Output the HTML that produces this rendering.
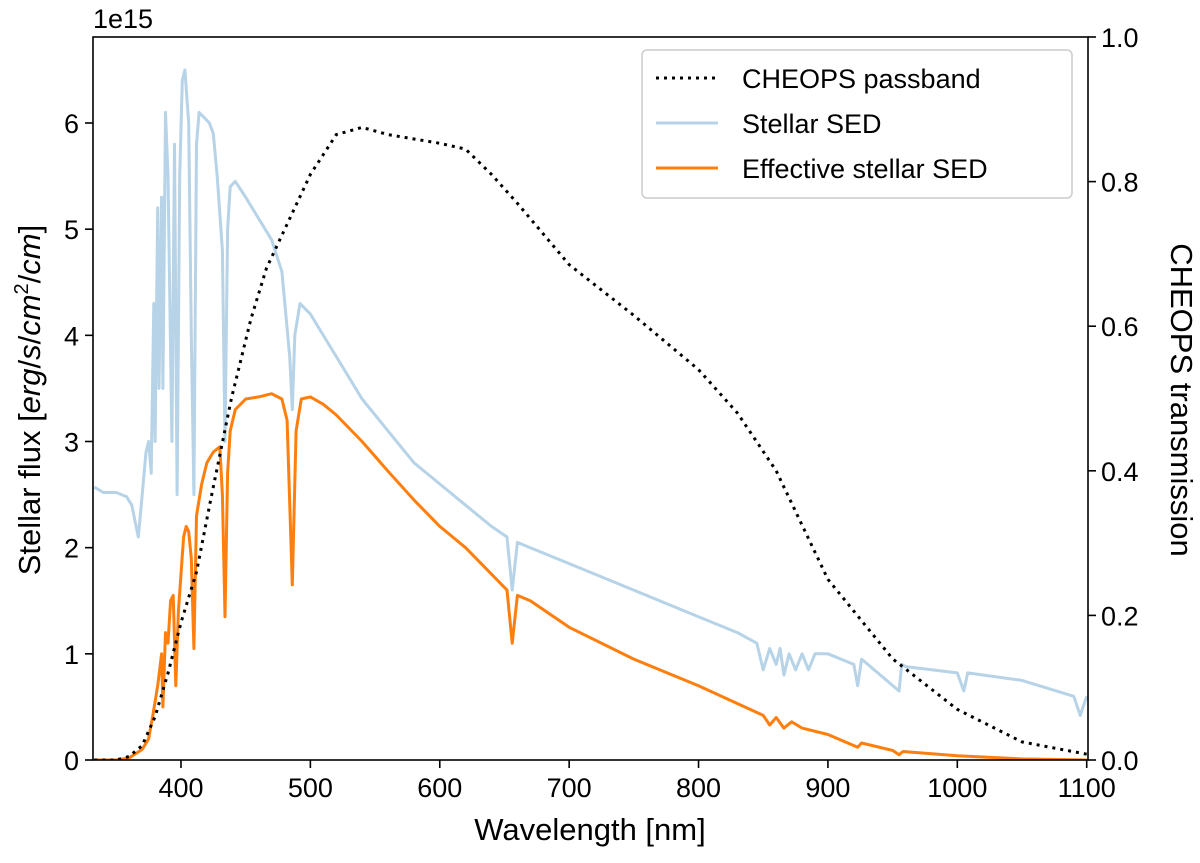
<!DOCTYPE html>
<html><head><meta charset="utf-8"><style>
body{margin:0;background:#fff;}
svg text{font-family:"Liberation Sans","DejaVu Sans",sans-serif;fill:#000;}
</style></head><body>
<svg id="chart" width="1200" height="858" viewBox="0 0 1200 858" xmlns="http://www.w3.org/2000/svg">
<g id="grid"></g>
<g id="marks"></g>
<g id="axes"></g>
</svg>
<script>
const xTicks=[400,500,600,700,800,900,1000,1100];
const yTicksLeft=[0,1,2,3,4,5,6];
const yTicksRight=[0,0.2,0.4,0.6,0.8,1.0];
const yTicksRightLabels=["0.0","0.2","0.4","0.6","0.8","1.0"];
const passWl=[333,350,360,370,380,390,400,412,423,439,454,466,500,520,540,560,600,620,640,660,700,750,800,830,860,900,950,1000,1050,1100];
const passT=[0,0.0,0.005,0.02,0.06,0.12,0.19,0.26,0.36,0.50,0.61,0.68,0.81,0.865,0.875,0.865,0.853,0.845,0.81,0.77,0.685,0.615,0.54,0.48,0.40,0.25,0.14,0.07,0.025,0.008];
const sedWl=[333,340,350,358,362,367,370,373,375,377,379,380,382,383,385,386,388,390,393,395,397,399,401,403,406,408,410,412,414,418,422,425,428,432,434,436,438,442,450,460,470,478,484,486,488,492,500,520,540,560,580,600,620,640,652,656,660,670,700,750,800,830,845,850,855,860,863,866,870,875,880,885,890,900,920,923,926,955,957,960,1000,1005,1008,1050,1090,1095,1100];
const sedFlux=[2.57,2.52,2.52,2.48,2.4,2.1,2.5,2.9,3.0,2.7,4.3,3.0,5.2,3.5,5.3,3.5,6.1,5.5,3.0,5.8,2.5,5.5,6.4,6.5,6.0,4.0,2.5,5.8,6.1,6.05,6.0,5.9,5.5,4.8,3.0,5.0,5.4,5.45,5.3,5.1,4.9,4.6,3.8,3.3,4.0,4.3,4.2,3.8,3.4,3.1,2.8,2.6,2.4,2.2,2.1,1.6,2.05,2.0,1.85,1.6,1.35,1.2,1.1,0.85,1.05,0.9,1.05,0.8,1.0,0.85,1.0,0.85,1.0,1.0,0.9,0.7,0.95,0.65,0.9,0.88,0.82,0.65,0.82,0.75,0.6,0.42,0.6];
const effWl=[333,350,360,370,375,378,382,385,386,388,390,392,394,396,398,402,404,406,408,410,412,416,420,425,430,432,434,436,438,442,450,460,470,478,482,486,489,493,500,510,520,540,560,580,600,620,640,652,656,660,670,700,750,800,850,855,860,866,872,880,900,923,926,950,955,958,1000,1050,1100];
const effFlux=[0,0,0.02,0.1,0.2,0.4,0.7,1.0,0.5,1.2,1.1,1.5,1.55,0.7,1.4,2.1,2.2,2.15,1.9,1.05,2.3,2.6,2.8,2.9,2.95,2.5,1.35,2.7,3.1,3.3,3.4,3.42,3.45,3.4,3.2,1.65,3.1,3.4,3.42,3.35,3.25,3.0,2.72,2.45,2.2,2.0,1.75,1.6,1.1,1.55,1.5,1.25,0.95,0.7,0.42,0.33,0.4,0.3,0.36,0.3,0.24,0.12,0.16,0.09,0.05,0.08,0.04,0.01,0.0];

const L=93,R=1088,T=37,B=760;
const xMin=332,xMax=1101,yMax=6.81;
const X=v=>L+(v-xMin)/(xMax-xMin)*(R-L);
const Y=v=>B-v/yMax*(B-T);
const Y2=v=>B-v*(B-T);
const NS="http://www.w3.org/2000/svg";
function mk(tag,attrs,parent){const e=document.createElementNS(NS,tag);for(const k in attrs)e.setAttribute(k,attrs[k]);parent.appendChild(e);return e;}
const marks=document.getElementById('marks'),axes=document.getElementById('axes');
function path(xs,ys,fy){return xs.map((x,i)=>(i?'L':'M')+X(x).toFixed(1)+','+fy(ys[i]).toFixed(1)).join('');}
const cp=mk('clipPath',{id:'clip'},marks);mk('rect',{x:L,y:T,width:R-L,height:B-T},cp);
const sed=mk('path',{d:path(sedWl,sedFlux,Y),fill:'none',stroke:'#b6d3e7','stroke-width':3,'stroke-linejoin':'round','clip-path':'url(#clip)'},marks);


const eff=mk('path',{d:path(effWl,effFlux,Y),fill:'none',stroke:'#ff7f0e','stroke-width':3,'stroke-linejoin':'round','clip-path':'url(#clip)'},marks);


const pb=mk('path',{d:path(passWl,passT,Y2),fill:'none',stroke:'#000','stroke-width':3,'stroke-dasharray':'3,5','clip-path':'url(#clip)'},marks);



const frame=mk('rect',{x:L,y:T,width:R-L,height:B-T,fill:'none',stroke:'#000','stroke-width':1.6},axes);


xTicks.forEach(v=>{const x=X(v);mk('line',{x1:x,x2:x,y1:B,y2:B+8,stroke:'#000','stroke-width':1.6},axes);
 const t=mk('text',{x:x,y:B+37,'font-size':27,'text-anchor':'middle'},axes);t.textContent=v;
 
 });
yTicksLeft.forEach(v=>{const y=Y(v);mk('line',{x1:L-8,x2:L,y1:y,y2:y,stroke:'#000','stroke-width':1.6},axes);
 const t=mk('text',{x:L-14,y:y+10,'font-size':27,'text-anchor':'end'},axes);t.textContent=v;
 
 });
yTicksRight.forEach((v,i)=>{const y=Y2(v);mk('line',{x1:R,x2:R+8,y1:y,y2:y,stroke:'#000','stroke-width':1.6},axes);
 const t=mk('text',{x:R+13,y:y+10,'font-size':27},axes);t.textContent=yTicksRightLabels[i];
 
 });
</script>
<svg width="1200" height="858" style="position:absolute;left:0;top:0" xmlns="http://www.w3.org/2000/svg">
<text x="93" y="28" font-size="27">1e15</text>
<text x="590" y="840" font-size="31" text-anchor="middle">Wavelength [nm]</text>
<text transform="translate(40,400) rotate(-90)" font-size="31" text-anchor="middle">Stellar flux [<tspan font-style="italic">erg</tspan>/<tspan font-style="italic">s</tspan>/<tspan font-style="italic">cm</tspan><tspan font-size="20" dy="-12">2</tspan><tspan dy="12">/</tspan><tspan font-style="italic">cm</tspan>]</text>
<text transform="translate(1171,400) rotate(90)" font-size="31" text-anchor="middle">CHEOPS transmission</text>
<g>
<rect x="642" y="50" width="430" height="148" rx="5" fill="#fff" fill-opacity="0.85" stroke="#ccc" stroke-width="1.5"/>
<line x1="656" y1="78" x2="718" y2="78" stroke="#000" stroke-width="3" stroke-dasharray="3,5"/>
<text x="742" y="88" font-size="27">CHEOPS passband</text>
<line x1="656" y1="123" x2="718" y2="123" stroke="#b6d3e7" stroke-width="3"/>
<text x="742" y="133" font-size="27">Stellar SED</text>
<line x1="656" y1="168" x2="718" y2="168" stroke="#ff7f0e" stroke-width="3"/>
<text x="742" y="178" font-size="27">Effective stellar SED</text>
</g>
</svg>
</body></html>
